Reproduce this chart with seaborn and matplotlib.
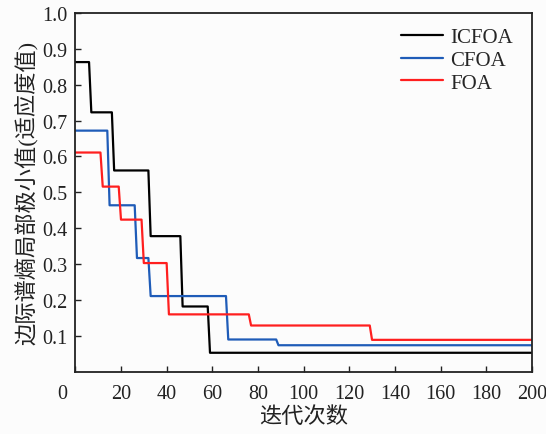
import matplotlib
matplotlib.use("Agg")
import matplotlib.pyplot as plt
import matplotlib.transforms as mtransforms
import seaborn as sns
import pandas as pd

# ---- data ----
algorithms = ["ICFOA", "CFOA", "FOA"]
icfoa_change_iter = [0, 7, 17, 33, 47, 59]
icfoa_levels = [0.863, 0.723, 0.561, 0.378, 0.182, 0.053]
cfoa_change_iter = [0, 15, 27, 33, 67, 89]
cfoa_levels = [0.672, 0.464, 0.317, 0.211, 0.090, 0.074]
foa_change_iter = [0, 12, 20, 30, 41, 77, 130]
foa_levels = [0.611, 0.516, 0.424, 0.303, 0.160, 0.129, 0.089]
max_iter = 200
x_ticks = [0, 20, 40, 60, 80, 100, 120, 140, 160, 180, 200]
y_ticks = [0.1, 0.2, 0.3, 0.4, 0.5, 0.6, 0.7, 0.8, 0.9, 1.0]
colors = ["#000000", "#1f5cb8", "#ff1f1f"]


def build(changes, levels, name):
    rows = []
    for k, (c, v) in enumerate(zip(changes, levels)):
        end = changes[k + 1] - 1 if k + 1 < len(changes) else max_iter
        rows.append((c, v, name))
        rows.append((end, v, name))
    return rows


rows = (build(icfoa_change_iter, icfoa_levels, "ICFOA")
        + build(cfoa_change_iter, cfoa_levels, "CFOA")
        + build(foa_change_iter, foa_levels, "FOA"))
df = pd.DataFrame(rows, columns=["iter", "fitness", "alg"])

sns.set_style("ticks")
plt.rcParams["font.family"] = ["Liberation Serif", "Noto Sans CJK SC"]

fig = plt.figure(figsize=(5.46, 4.35), dpi=100)
fig.patch.set_facecolor("#fcfcfc")
ax = fig.add_axes([0.138, 0.143, 0.836, 0.825])
ax.set_facecolor("#fcfcfc")

sns.lineplot(data=df, x="iter", y="fitness", hue="alg", hue_order=algorithms,
             palette=colors, estimator=None, sort=False, linewidth=1.6, ax=ax)

ax.set_xlim(0, 200)
ax.set_ylim(0, 1.0)
ax.set_xticks(x_ticks)
ax.set_xticklabels([str(t) for t in x_ticks])
ax.set_yticks(y_ticks)
ax.set_yticklabels([f"{t:.1f}" for t in y_ticks])
ax.tick_params(direction="in", length=4, width=1.0, labelsize=14.5, colors="#222222")
ax.tick_params(axis="x", pad=9)
ax.tick_params(axis="y", pad=6)
for s in ax.spines.values():
    s.set_linewidth(1.3)
    s.set_color("#222222")

# offset the "0" label like the reference
lbl0 = ax.get_xticklabels()[0]
lbl0.set_transform(lbl0.get_transform() + mtransforms.ScaledTranslation(-13 / 100, 0, fig.dpi_scale_trans))

ax.set_xlabel("迭代次数", fontsize=16, color="#222222", labelpad=2)
ax.set_ylabel("边际谱熵局部极小值(适应度值)", fontsize=16, color="#222222", labelpad=3)

leg = ax.legend(loc="upper right", frameon=False, fontsize=15, handlelength=2.0,
                handletextpad=0.35, labelspacing=0.15, borderaxespad=0.3,
                bbox_to_anchor=(0.99, 1.0))
for h in leg.get_lines():
    h.set_linewidth(1.6)

fig.savefig("out.png", dpi=100, facecolor=fig.get_facecolor())
